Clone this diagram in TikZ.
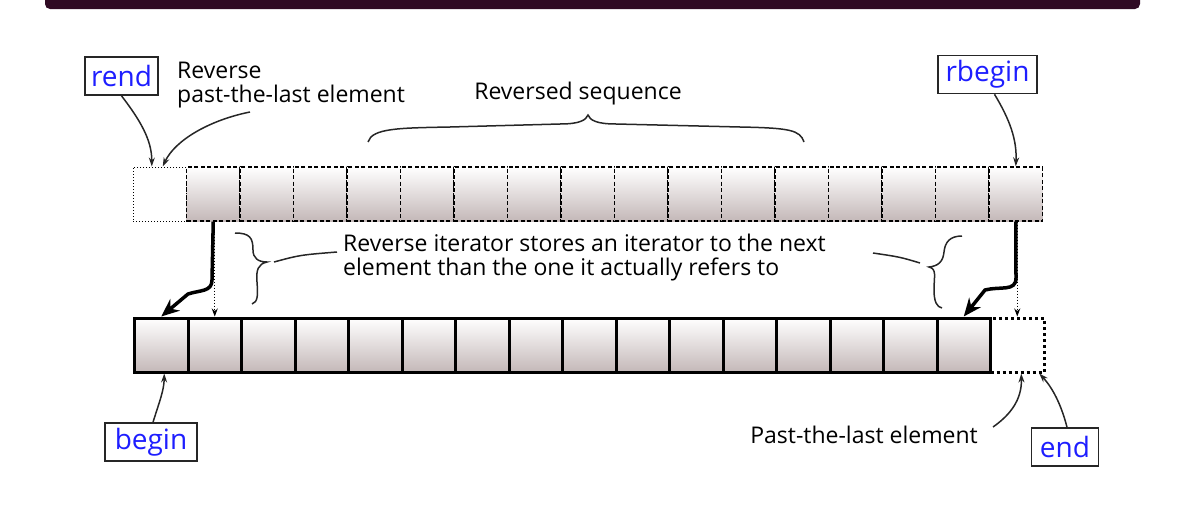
\documentclass[tikz,border=0pt]{standalone}
\usepackage{fontspec}
\setmainfont{Open Sans}
\usetikzlibrary{arrows.meta,calc}
\definecolor{barcol}{RGB}{48,10,36}
\definecolor{cellbot}{RGB}{196,184,184}
\definecolor{lblblue}{RGB}{30,30,255}
\begin{document}
\begin{tikzpicture}[x=1pt,y=-1pt,
  every node/.style={font=\fontsize{23}{24}\selectfont},
  cell/.style={minimum width=53.5pt,minimum height=54pt,inner sep=0pt,top color=white,bottom color=cellbot},
  topcell/.style={cell,draw,line width=1.4pt,dash pattern=on 4pt off 2.5pt},
  botcell/.style={cell,draw,line width=3pt},
  emptytop/.style={minimum width=53.5pt,minimum height=54pt,inner sep=0pt,draw,line width=1pt,dotted},
  emptybot/.style={minimum width=53.5pt,minimum height=54pt,inner sep=0pt,draw,line width=3pt,dash pattern=on 3pt off 3pt},
  lbl/.style={draw=black!85,line width=1.6pt,text=lblblue,font=\fontsize{28}{30}\selectfont,minimum height=38pt,inner xsep=2pt,inner ysep=1pt},
  thinarr/.style={-{Stealth[length=9pt,width=6pt]},line width=1.5pt,black!85},
  thickarr/.style={-{Stealth[length=18pt,width=15pt]},line width=3.5pt},
  dotarr/.style={-{Stealth[length=8pt,width=6pt]},line width=1pt,dotted},
  brace/.style={line width=1.5pt,black!85}]
\useasboundingbox (0,0) rectangle (1201,530);
% title bar remnant
\fill[barcol,rounded corners=5pt] (45,-10) rectangle (1140,9);
% reversed view (top row)
\foreach \i in {1,...,16}
  \node[topcell] (tr\i) at ({133+53.5*(\i+0.5)},194) {};
\node[emptytop] (tr0) at (159.75,194) {};
% container (bottom row)
\foreach \i in {0,...,15}
  \node[botcell] (br\i) at ({134.5+53.5*(\i+0.5)},345) {};
\node[emptybot] (br16) at ({134.5+53.5*16.5},345) {};
% labels
\node[lbl,minimum width=73pt] (rend) at (121.5,76) {rend};
\node[lbl,minimum width=99pt] (rbegin) at (987.5,74.5) {rbegin};
\node[lbl,minimum width=92pt] (begin) at (151,442) {begin};
\node[lbl,minimum width=67pt] (endlbl) at (1065,447) {end};
\node[align=left,anchor=west,inner sep=0pt] (rpast) at (177,85) {Reverse\\past-the-last element};
\node (seq) at (578,94) {Reversed sequence};
\node[align=left,anchor=west,inner sep=0pt] (note) at (343,258) {Reverse iterator stores an iterator to the next\\element than the one it actually refers to};
\node[anchor=east,inner sep=0pt] (past) at (978,435) {Past-the-last element};
% braces
\draw[brace] (368,142) .. controls (372,128) and (400,128) .. (450,127) -- (560,124)
  .. controls (580,124) and (586,120) .. (588,115) .. controls (590,120) and (596,124) .. (616,124)
  -- (740,127) .. controls (790,128) and (800,130) .. (804,142);
\coordinate (lbrace) at (267,262);
\draw[brace] (235,233) .. controls (250,233) and (253,238) .. (253,250) .. controls (253,258) and (258,262) .. (lbrace)
  .. controls (258,264) and (256,270) .. (257,282) .. controls (258,295) and (258,302) .. (252,304);
\coordinate (rbrace) at (929,267);
\draw[brace] (962,236) .. controls (950,236) and (945,242) .. (944,252) .. controls (943,262) and (938,266) .. (rbrace)
  .. controls (937,269) and (934,276) .. (934,290) .. controls (934,302) and (937,307) .. (942,308);
\coordinate (rline) at (873,253);
\draw[brace] ($(lbrace)+(7,0)$) .. controls (300,255) .. ($(note.west)+(-6,-6)$);
\draw[brace] ($(rbrace)+(-9,-4)$) .. controls (900,257) .. (rline);
% label arrows
\draw[thinarr] (rend.south) .. controls (140,120) and (152,140) .. ($(tr0.north)+(-8,0)$);
\draw[thinarr] (250,112) .. controls (210,120) and (175,140) .. ($(tr0.north)+(3,0)$);
\draw[thinarr] ($(rbegin.south)+(7,0)$) .. controls (1010,120) and (1017,140) .. (tr16.north);
\draw[thinarr] ($(begin.north)+(2,0)$) .. controls (160,400) and (164,390) .. ($(br0.south)+(3,0)$);
\draw[thinarr] ($(endlbl.north)+(2,0)$) .. controls (1060,400) and (1050,385) .. ($(br16.south)+(22,0)$);
\draw[thinarr] (993,427) .. controls (1010,415) and (1022,400) .. ($(br16.south)+(4,0)$);
% reverse iterator -> base iterator
\draw[dotarr] (br1.north |- tr1.south) -- (br1.north);
\draw[dotarr] (br16.north |- tr16.south) -- (br16.north);
\draw[thickarr] (tr1.south) -- (212,280) .. controls (212,292) and (200,290) .. (188,294) -- (br0.north);
\draw[thickarr] (tr16.south) -- (1016,278) .. controls (1016,292) and (1000,286) .. (985,290) -- (br15.north);
\end{tikzpicture}
\end{document}
